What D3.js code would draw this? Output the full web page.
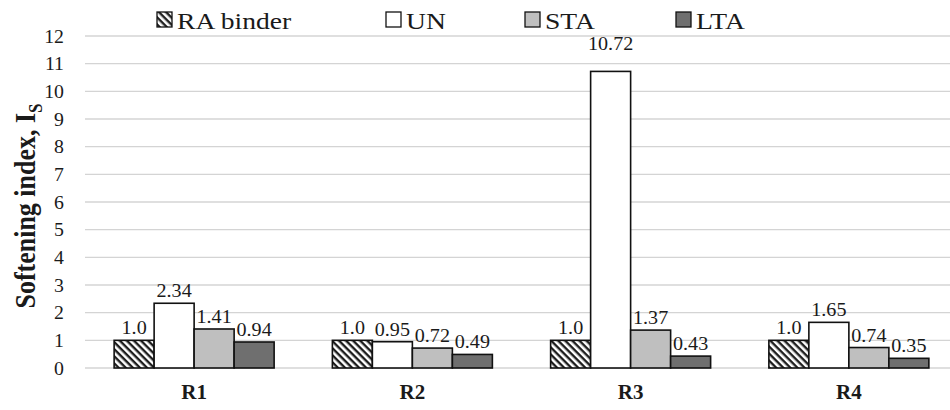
<!DOCTYPE html>
<html>
<head>
<meta charset="utf-8">
<script src="https://cdn.jsdelivr.net/npm/d3@7"></script>
<style>
  body { margin: 0; background: #fff; }
  svg { display: block; }
  svg text { font-family: 'Times New Roman', 'Liberation Serif', 'DejaVu Serif', serif !important; fill: #1a1a1a; }
</style>
</head>
<body>
<svg id="chart" width="950" height="410"></svg>
<script>
// Softening index per recycled-asphalt binder and ageing condition
const categories = ["R1", "R2", "R3", "R4"];
const seriesNames = ["RA binder", "UN", "STA", "LTA"];
const raBinder = [1.0, 1.0, 1.0, 1.0];
const un = [2.34, 0.95, 10.72, 1.65];
const sta = [1.41, 0.72, 1.37, 0.74];
const lta = [0.94, 0.49, 0.43, 0.35];
const valueLabels = [
  ["1.0", "1.0", "1.0", "1.0"],
  ["2.34", "0.95", "10.72", "1.65"],
  ["1.41", "0.72", "1.37", "0.74"],
  ["0.94", "0.49", "0.43", "0.35"]
];
const yTicks = [0, 1, 2, 3, 4, 5, 6, 7, 8, 9, 10, 11, 12];

const seriesValues = [raBinder, un, sta, lta];
const fills = ["url(#hatch)", "#ffffff", "#bfbfbf", "#6f6f6f"];

const svg = d3.select("#chart");
const margin = { left: 85, top: 36, bottom: 368 };

const defs = svg.append("defs");
const pat = defs.append("pattern")
  .attr("id", "hatch")
  .attr("patternUnits", "userSpaceOnUse")
  .attr("width", 5).attr("height", 5)
  .attr("patternTransform", "rotate(45)");
pat.append("rect").attr("width", 5).attr("height", 5).attr("fill", "#ffffff");
pat.append("rect").attr("width", 5).attr("height", 2.4).attr("fill", "#1e1e1e");

const x = d3.scaleBand().domain(categories).range([margin.left, 958]).paddingInner(0).paddingOuter(0);
const xs = d3.scaleBand().domain(seriesNames).range([0, 160]);
const groupOffset = (x.bandwidth() - 160) / 2;
const y = d3.scaleLinear().domain([0, 12]).range([margin.bottom, margin.top]);

// gridlines
const grid = svg.append("g");
grid.selectAll("line").data(yTicks).join("line")
  .attr("x1", margin.left).attr("x2", 950)
  .attr("y1", d => y(d)).attr("y2", d => y(d))
  .attr("stroke", "#d4d4d4").attr("stroke-width", 1.3);

// y axis tick labels (slightly widened glyphs)
const yAxis = d3.axisLeft(y).tickValues(yTicks).tickSize(0).tickPadding(0).tickFormat(d3.format("d"));
const yG = svg.append("g").attr("transform", "translate(64,0)").call(yAxis);
yG.attr("font-family", null).attr("font-size", null);
yG.select(".domain").remove();
yG.selectAll("text").attr("x", 0).attr("font-size", 18).attr("fill", "#1a1a1a").attr("dy", "0.34em")
  .attr("transform", "scale(1.1,1)");

// x axis category labels
const xAxis = d3.axisBottom(x).tickSize(0).tickPadding(0);
const xG = svg.append("g").attr("transform", `translate(0,${margin.bottom + 31})`).call(xAxis);
xG.attr("font-family", null).attr("font-size", null);
xG.select(".domain").remove();
xG.selectAll("text").attr("font-size", 21).attr("font-weight", "bold").attr("fill", "#1a1a1a").attr("dy", "0");

// the tall R3 / UN label sits higher above its bar
const labelGap = (c, name) => (c === "R3" && name === "UN") ? 21 : 6;

// bars and value labels
seriesNames.forEach((name, si) => {
  const g = svg.append("g");
  const data = categories.map((c, ci) => ({ c, v: seriesValues[si][ci], label: valueLabels[si][ci] }));
  g.selectAll("rect").data(data).join("rect")
    .attr("x", d => x(d.c) + groupOffset + xs(name))
    .attr("y", d => y(d.v))
    .attr("width", xs.bandwidth())
    .attr("height", d => y(0) - y(d.v))
    .attr("fill", fills[si])
    .attr("stroke", "#111").attr("stroke-width", 1.6);
  g.selectAll("text").data(data).join("text")
    .attr("transform", d => `translate(${x(d.c) + groupOffset + xs(name) + xs.bandwidth() / 2},${y(d.v) - labelGap(d.c, name)}) scale(1.06,1)`)
    .attr("text-anchor", "middle")
    .attr("font-size", 19)
    .text(d => d.label);
});

// y axis title
svg.append("text")
  .attr("transform", `translate(35,206) scale(1.15,1) rotate(-90)`)
  .attr("text-anchor", "middle")
  .attr("font-size", 26).attr("font-weight", "bold")
  .call(t => {
    t.append("tspan").text("Softening index, I");
    t.append("tspan").attr("font-size", 17).attr("dy", 6).text("S");
  });

// legend
const legendSwatchX = [157, 386, 525, 676];
const legend = svg.append("g");
seriesNames.forEach((name, i) => {
  legend.append("rect")
    .attr("x", legendSwatchX[i]).attr("y", 12)
    .attr("width", 15).attr("height", 15)
    .attr("fill", fills[i]).attr("stroke", "#111").attr("stroke-width", 1.3);
  legend.append("text")
    .attr("transform", `translate(${legendSwatchX[i] + 20},28.5) scale(1.15,1)`)
    .attr("font-size", 24)
    .text(name);
});
</script>
</body>
</html>
